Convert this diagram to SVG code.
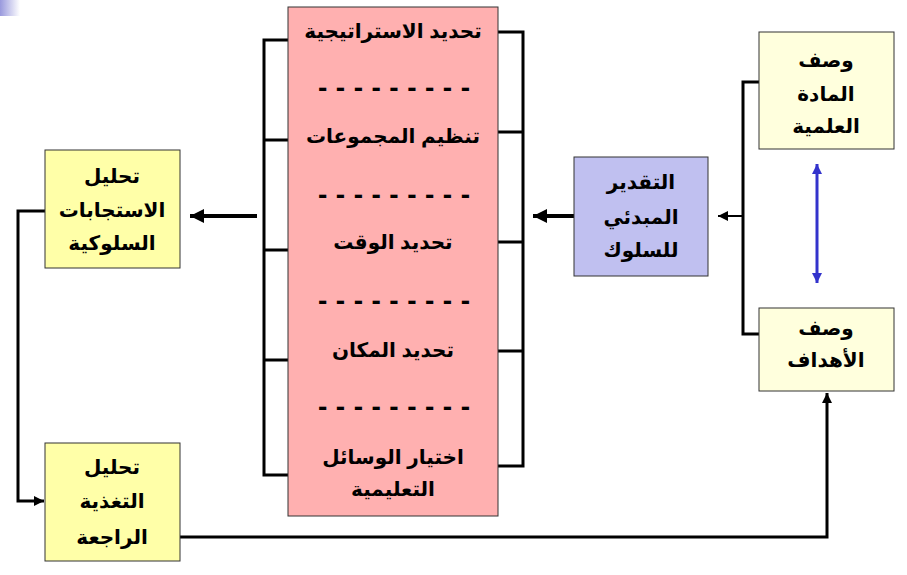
<svg xmlns="http://www.w3.org/2000/svg" width="907" height="575" viewBox="0 0 907 575">
<style>
.box{stroke:#333;stroke-width:1}
.t{font-family:"Liberation Sans","DejaVu Sans",sans-serif;font-weight:bold;font-size:20px;fill:#000;text-anchor:middle}
.d{font-family:"Liberation Sans","DejaVu Sans",sans-serif;font-weight:bold;font-size:28px;fill:#000;text-anchor:middle}
.ln{fill:none;stroke:#000;stroke-width:3;stroke-linejoin:miter}
.thick{fill:none;stroke:#000;stroke-width:4}
</style>
<defs>
<linearGradient id="g" x1="0" y1="0" x2="1" y2="0">
<stop offset="0" stop-color="#9999dd"/>
<stop offset="1" stop-color="#ffffff"/>
</linearGradient>
<marker id="ah" viewBox="0 0 10 10" refX="10" refY="5" markerWidth="14" markerHeight="14" markerUnits="userSpaceOnUse" orient="auto">
<path d="M0,0 L10,5 L0,10 z" fill="#000"/>
</marker>
<marker id="as" viewBox="0 0 10 10" refX="10" refY="5" markerWidth="10" markerHeight="10" markerUnits="userSpaceOnUse" orient="auto">
<path d="M0,0 L10,5 L0,10 z" fill="#000"/>
</marker>
<marker id="ab" viewBox="0 0 10 10" refX="10" refY="5" markerWidth="10" markerHeight="10" markerUnits="userSpaceOnUse" orient="auto-start-reverse">
<path d="M0,0 L10,5 L0,10 z" fill="#3333cc"/>
</marker>
</defs>
<rect x="0" y="0" width="20" height="16" fill="url(#g)"/>

<g id="connectors">
<path class="ln" d="M288,40 H264 V475 H288 M264,140 H288 M264,250 H288 M264,360 H288"/>
<path class="ln" d="M498,32 H523 V466 H498 M498,132 H523 M498,242 H523 M498,351 H523"/>
<path class="thick" d="M257,216 H190" marker-end="url(#ah)"/>
<path class="thick" d="M574,216 H533" marker-end="url(#ah)"/>
<path class="ln" d="M759,82 H743 V334 H759"/>
<path d="M743,216 H718" fill="none" stroke="#000" stroke-width="2" marker-end="url(#as)"/>
<path d="M817,164 V283" fill="none" stroke="#3333cc" stroke-width="3" marker-start="url(#ab)" marker-end="url(#ab)"/>
<path d="M45,211 H18 V501 H44" fill="none" stroke="#000" stroke-width="3" marker-end="url(#as)"/>
<path d="M180,537 H827 V393" fill="none" stroke="#000" stroke-width="3" marker-end="url(#as)"/>
</g>

<g id="pink">
<rect class="box" x="288" y="7" width="210" height="509" fill="#ffb0b0"/>
<text class="t" x="393" y="38">تحديد الاستراتيجية</text>
<text class="d" x="394" y="97" textLength="152" lengthAdjust="spacing">- - - - - - - - -</text>
<text class="t" x="393" y="143">تنظيم المجموعات</text>
<text class="d" x="394" y="204" textLength="152" lengthAdjust="spacing">- - - - - - - - -</text>
<text class="t" x="393" y="249">تحديد الوقت</text>
<text class="d" x="394" y="310" textLength="152" lengthAdjust="spacing">- - - - - - - - -</text>
<text class="t" x="393" y="357">تحديد المكان</text>
<text class="d" x="394" y="416" textLength="152" lengthAdjust="spacing">- - - - - - - - -</text>
<text class="t" x="393" y="464">اختيار الوسائل</text>
<text class="t" x="393" y="496">التعليمية</text>
</g>

<g id="analysis-responses">
<rect class="box" x="45" y="150" width="135" height="118" fill="#ffffa8"/>
<text class="t" x="112" y="183">تحليل</text>
<text class="t" x="112" y="217">الاستجابات</text>
<text class="t" x="112" y="250">السلوكية</text>
</g>

<g id="analysis-feedback">
<rect class="box" x="45" y="443" width="135" height="118" fill="#ffffa8"/>
<text class="t" x="112" y="474">تحليل</text>
<text class="t" x="112" y="508">التغذية</text>
<text class="t" x="112" y="544">الراجعة</text>
</g>

<g id="initial-assessment">
<rect class="box" x="574" y="157" width="134" height="119" fill="#c0c0f0"/>
<text class="t" x="641" y="189">التقدير</text>
<text class="t" x="641" y="224">المبدئي</text>
<text class="t" x="641" y="257">للسلوك</text>
</g>

<g id="content-description">
<rect class="box" x="759" y="32" width="135" height="117" fill="#ffffdd"/>
<text class="t" x="826" y="67">وصف</text>
<text class="t" x="826" y="101">المادة</text>
<text class="t" x="826" y="133">العلمية</text>
</g>

<g id="objectives-description">
<rect class="box" x="759" y="308" width="135" height="83" fill="#ffffdd"/>
<text class="t" x="826" y="335">وصف</text>
<text class="t" x="826" y="367">الأهداف</text>
</g>
</svg>
